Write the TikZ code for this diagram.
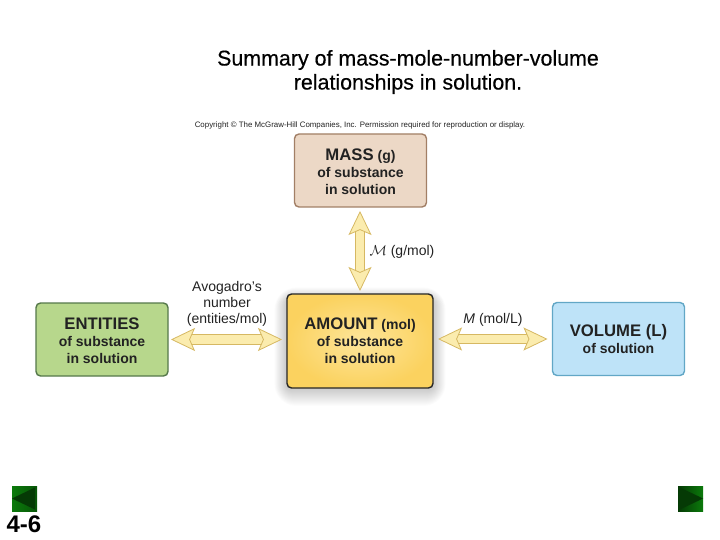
\documentclass[tikz,border=0pt]{standalone}
\usepackage{fontspec}
\setmainfont{Liberation Sans}
\newfontfamily\titlefont[FakeBold=.4]{Liberation Sans}
\usetikzlibrary{arrows.meta}

\definecolor{massfill}{HTML}{ECD8C6}
\definecolor{massline}{HTML}{A27F66}
\definecolor{entfill}{HTML}{B7D78C}
\definecolor{entline}{HTML}{55784A}
\definecolor{volfill}{HTML}{BEE3F8}
\definecolor{volline}{HTML}{62A7C6}
\definecolor{amtside}{HTML}{FBD25F}
\definecolor{amtmid}{HTML}{FDE59A}
\definecolor{arrfill}{HTML}{FBECAE}
\definecolor{arrline}{HTML}{D6B862}
\definecolor{navlight}{HTML}{0B7A0B}
\definecolor{navdark}{HTML}{053A05}
\definecolor{inktext}{HTML}{222222}

\tikzset{
    qtybox/.style={draw, line width=1.4pt, rounded corners=4.5pt, outer sep=0pt, inner sep=0pt,
        align=center, text=inktext, font=\bfseries\fontsize{14}{17}\selectfont},
    convarrow/.style={draw=arrline, double=arrfill, double distance=8.6pt, line width=.8pt,
        {Stealth[length=24pt,width=23pt,inset=5pt,fill=arrfill,color=arrline,line width=.8pt]}-{Stealth[length=24pt,width=23pt,inset=5pt,fill=arrfill,color=arrline,line width=.8pt]}},
    convlabel/.style={align=center, text=inktext, font=\fontsize{14}{16}\selectfont},
    navbox/.style={minimum size=25pt, inner sep=0pt, outer sep=0pt}
}
\newcommand{\bigword}[1]{{\fontsize{16.7}{17}\selectfont #1}}

\begin{document}
\begin{tikzpicture}[x=1pt, y=-1pt]
    \useasboundingbox (0, 0) rectangle (720, 540);

    \node[font=\titlefont\fontsize{21.4}{24}\selectfont, align=center] (title) at (408, 72)
        {Summary of mass-mole-number-volume\\relationships in solution.};
    \node[font=\fontsize{7.9}{8}\selectfont, text=inktext] (copyright) at (360, 125)
        {Copyright © The McGraw-Hill Companies, Inc. Permission required for reproduction or display.};

    % soft shadow under the amount box
    \foreach \s in {18,17,...,1}
        \fill[black, opacity=.012, rounded corners=\s+4]
            (287-\s*.7, 300-\s*.7) rectangle (433+\s*.7, 388+\s);

    \node[qtybox, draw=massline, fill=massfill, minimum width=132pt, minimum height=73pt] (mass) at (360.5, 170.5)
        {\rule{0pt}{15pt}\bigword{MASS} (g)\\of substance\\in solution};
    \node[qtybox, draw=entline, fill=entfill, minimum width=132pt, minimum height=73pt] (entities) at (102, 339.5)
        {\rule{0pt}{15pt}\bigword{ENTITIES}\\of substance\\in solution};
    \node[qtybox, draw=black!85, inner color=amtmid, outer color=amtside,
        minimum width=146pt, minimum height=94pt] (amount) at (360, 341)
        {\bigword{AMOUNT} (mol)\\of substance\\in solution};
    \node[qtybox, draw=volline, fill=volfill, minimum width=132pt, minimum height=73pt] (volume) at (618.5, 339)
        {\bigword{VOLUME (L)}\\of solution};

    \draw[convarrow, shorten <=4pt, shorten >=3pt] (mass.south -| amount.north) -- (amount.north);
    \draw[convarrow, shorten <=3pt, shorten >=5pt] (entities.east) -- (entities.east -| amount.west);
    \draw[convarrow, shorten <=5pt, shorten >=5pt] (volume.west -| amount.east) -- (volume.west);

    \node[convlabel] (molar) at (402, 252) {$\mathcal{M}$ (g/mol)};
    \node[convlabel] (avogadro) at (227, 304) {Avogadro's\\number\\(entities/mol)};
    \node[convlabel] (molarity) at (493, 319.5) {\textit{M} (mol/L)};

    \node[navbox, left color=navlight, right color=navlight!70!black] (prevbtn) at (24.5, 498.5) {};
    \fill[navdark] (prevbtn.east) ++(-2, -11) -- ++(0, 22) -- (prevbtn.west) -- cycle;
    \node[navbox, left color=navdark, right color=navlight] (nextbtn) at (690.5, 498.5) {};
    \fill[navdark] (nextbtn.west) ++(2, -11) -- ++(0, 22) -- (nextbtn.east) -- cycle;
    \node[font=\bfseries\fontsize{24}{24}\selectfont] (slidenum) at (24, 524) {4-6};
\end{tikzpicture}
\end{document}
